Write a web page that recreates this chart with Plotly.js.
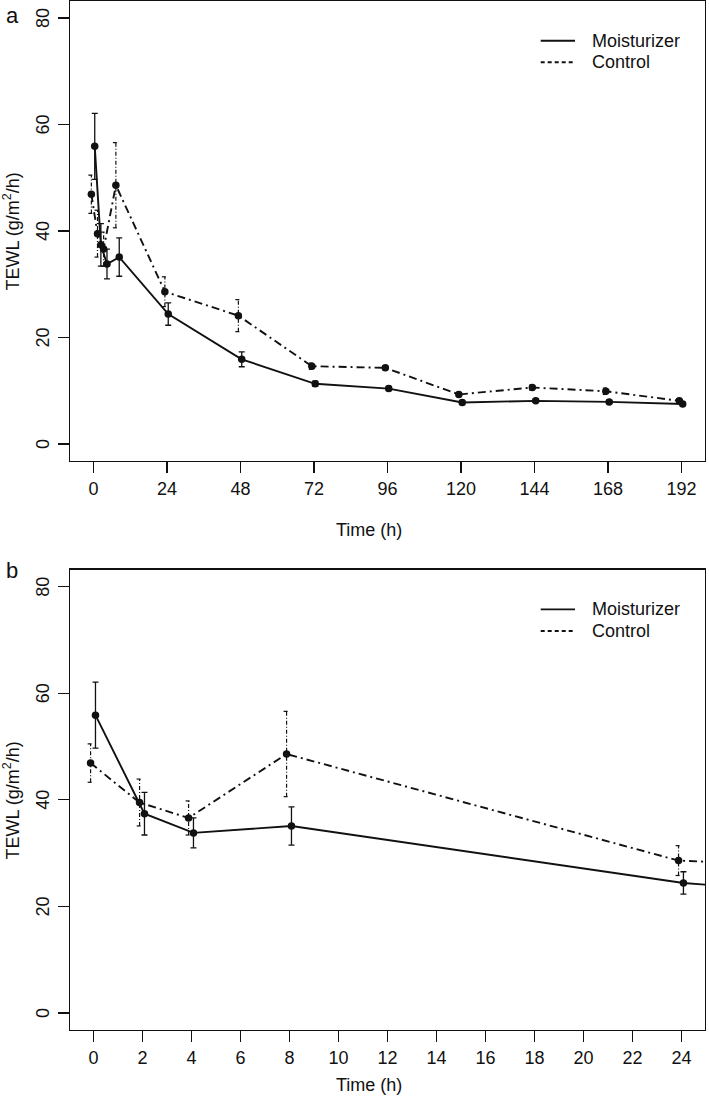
<!DOCTYPE html>
<html>
<head>
<meta charset="utf-8">
<script src="https://cdn.plot.ly/plotly-3.0.1.min.js"></script>
<style>html,body{margin:0;padding:0;background:#fff;}#chart{width:709px;height:1096px;}</style>
</head>
<body>
<div id="chart"></div>
<script>
// ---- data ----
const times = [0, 2, 4, 8, 24, 48, 72, 96, 120, 144, 168, 192];
const moisturizerMean = [55.9, 37.4, 33.8, 35.1, 24.4, 15.9, 11.3, 10.4, 7.8, 8.1, 7.9, 7.5];
const moisturizerSD   = [6.2, 4.0, 2.8, 3.6, 2.1, 1.4, 0.5, 0.4, 0.4, 0.3, 0.3, 0.3];
const controlMean = [46.9, 39.5, 36.6, 48.6, 28.6, 24.1, 14.6, 14.3, 9.3, 10.6, 9.9, 8.1];
const controlSD   = [3.6, 4.4, 3.2, 8.0, 2.8, 3.0, 0.6, 0.4, 0.4, 0.5, 0.6, 0.4];
const seriesNames = ['Moisturizer', 'Control'];
const xTicksTop = [0, 24, 48, 72, 96, 120, 144, 168, 192];
const xTicksBottom = [0, 2, 4, 6, 8, 10, 12, 14, 16, 18, 20, 22, 24];
const yTicks = [0, 20, 40, 60, 80];

// ---- style ----
const FONT = 'Liberation Sans, Arial, Helvetica, sans-serif';
const INK = '#111';
const panels = [
  {xa: 'x', ya: 'y', dodgeM: 0.4, dodgeC: -0.7, cap: 0.98, top: 1},
  {xa: 'x2', ya: 'y2', dodgeM: 0.08, dodgeC: -0.12, cap: 0.12, top: 569.7}
];
const ctrlDash = '8px,4px,2px,4px';

const traces = [];
panels.forEach(p => {
  traces.push({
    x: times.map(t => t + p.dodgeM), y: moisturizerMean, name: seriesNames[0],
    xaxis: p.xa, yaxis: p.ya, mode: 'lines+markers', showlegend: false,
    line: {color: INK, width: 1.9}, marker: {color: INK, size: 7.5},
    error_y: {type: 'data', array: moisturizerSD, visible: true, color: INK, thickness: 1.3, width: 3}
  });
  // control error bars (dash-dot), built from the data arrays
  const ex = [], ey = [];
  times.forEach((t, i) => {
    const xc = t + p.dodgeC, lo = controlMean[i] - controlSD[i], hi = controlMean[i] + controlSD[i];
    ex.push(xc, xc, null, xc - p.cap, xc + p.cap, null, xc - p.cap, xc + p.cap, null);
    ey.push(lo, hi, null, hi, hi, null, lo, lo, null);
  });
  traces.push({x: ex, y: ey, xaxis: p.xa, yaxis: p.ya, mode: 'lines', showlegend: false,
    line: {color: INK, width: 1.2, dash: '4px,2px,1px,2px'}, hoverinfo: 'skip'});
  traces.push({
    x: times.map(t => t + p.dodgeC), y: controlMean, name: seriesNames[1],
    xaxis: p.xa, yaxis: p.ya, mode: 'lines+markers', showlegend: false,
    line: {color: INK, width: 1.9, dash: ctrlDash}, marker: {color: INK, size: 7.5}
  });
});

const W = 709, H = 1096, ML = 70, MR = 4, MT = 1, MB = 66;
const PW = W - ML - MR, PH = H - MT - MB;
const px2x = px => (px - ML) / PW;
const py2y = py => (H - MB - py) / PH;

const axisCommon = {
  showline: true, mirror: true, linecolor: INK, linewidth: 1.3,
  ticks: 'outside', ticklen: 11, tickwidth: 1.3, tickcolor: INK,
  showgrid: false, zeroline: false, tickfont: {family: FONT, size: 18, color: INK}
};
// y tick labels are written rotated beside the axis (annotations placed via the y scale)
const yCommon = Object.assign({}, axisCommon, {range: [-3.2, 83.2], tickvals: yTicks, showticklabels: false});

const ann = (text, px, py, extra) => Object.assign({
  text, xref: 'paper', yref: 'paper', x: px2x(px), y: py2y(py), showarrow: false,
  xanchor: 'center', yanchor: 'middle', font: {family: FONT, size: 18, color: INK}
}, extra || {});

const shapes = [];
const annotations = [
  ann('Time (h)', 369, 530), ann('Time (h)', 369, 1085),
  ann('TEWL (g/m<sup>2</sup>/h)', 11.5, 231, {textangle: -90}),
  ann('TEWL (g/m<sup>2</sup>/h)', 11.5, 800, {textangle: -90}),
  ann('a', 12, 15, {font: {family: FONT, size: 22, color: INK}}),
  ann('b', 12, 570, {font: {family: FONT, size: 22, color: INK}})
];
panels.forEach(p => {
  yTicks.forEach(v => annotations.push({
    text: String(v), xref: 'paper', yref: p.ya, x: px2x(43), y: v, showarrow: false,
    textangle: -90, xanchor: 'center', yanchor: 'middle', font: {family: FONT, size: 18, color: INK}
  }));
  // legend key
  seriesNames.forEach((nm, k) => {
    const yy = py2y(p.top + 39.7 + k * 21.6);
    shapes.push({type: 'line', xref: 'paper', yref: 'paper', x0: px2x(540.7), x1: px2x(575), y0: yy, y1: yy,
      line: {color: INK, width: 1.9, dash: k === 0 ? 'solid' : '4px,3px'}});
    annotations.push({text: nm, xref: 'paper', yref: 'paper', x: px2x(590), y: yy, showarrow: false,
      xanchor: 'left', yanchor: 'middle', font: {family: FONT, size: 18, color: INK}});
  });
});

const layout = {
  width: W, height: H, margin: {l: ML, r: MR, t: MT, b: MB},
  paper_bgcolor: '#fff', plot_bgcolor: '#fff', showlegend: false,
  xaxis: Object.assign({}, axisCommon, {range: [-7.68, 199.68], tickvals: xTicksTop, ticktext: xTicksTop.map(String), anchor: 'y', ticklabelstandoff: 0}),
  yaxis: Object.assign({}, yCommon, {domain: [1 - 460 / PH, 1], anchor: 'x'}),
  xaxis2: Object.assign({}, axisCommon, {range: [-0.96, 24.96], tickvals: xTicksBottom, ticktext: xTicksBottom.map(String), anchor: 'y2', ticklabelstandoff: 0}),
  yaxis2: Object.assign({}, yCommon, {domain: [0, (H - MB - 569.7) / PH], anchor: 'x2'}),
  shapes, annotations
};
Plotly.newPlot('chart', traces, layout, {displayModeBar: false, staticPlot: true});
</script>
</body>
</html>
